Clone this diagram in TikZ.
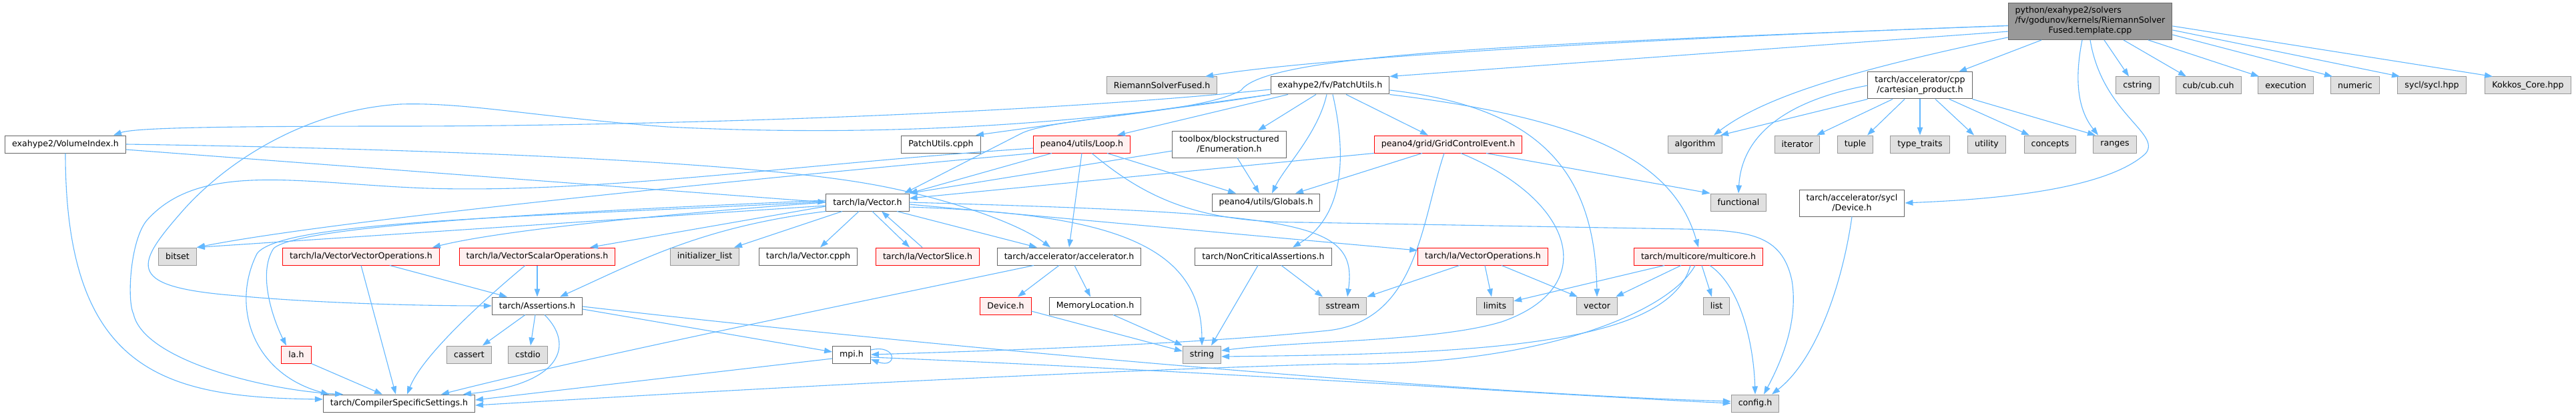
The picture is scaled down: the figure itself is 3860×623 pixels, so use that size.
\documentclass[tikz,border=0pt]{standalone}
\usepackage{fontspec}
\setmainfont{DejaVu Sans}
\usepackage{xcolor}
\usepackage{tikz}
\usetikzlibrary{arrows.meta,positioning}
\definecolor{edgeblue}{HTML}{63B8FF}
\definecolor{boxline}{HTML}{666666}
\definecolor{sysline}{HTML}{999999}
\definecolor{sysfill}{HTML}{E0E0E0}
\definecolor{cutline}{HTML}{FF0000}
\definecolor{cutfill}{HTML}{FFF0F0}
\definecolor{rootfill}{HTML}{999999}
\newcommand\gfont{\fontsize{12.6}{15}\selectfont}
\begin{document}
\begin{tikzpicture}[x=1pt, y=-1pt,
  hdr/.style={draw=boxline, fill=white, line width=1pt, inner xsep=10.5pt, inner ysep=2pt, minimum height=26pt, align=center, font=\gfont},
  sys/.style={hdr, draw=sysline, fill=sysfill},
  trunc/.style={hdr, draw=cutline, fill=cutfill},
  srcfile/.style={hdr, fill=rootfill, minimum height=55pt},
  incl/.style={draw=edgeblue, line width=1.1pt, -{Triangle[length=12pt,width=8.5pt]}}]
\fill[white] (0,0) rectangle (3860,623);
\useasboundingbox (0,0) rectangle (3860,623);
\node[srcfile] (root) at (3132,32) {\begin{tabular}{@{}l@{}}python/exahype2/solvers\\/fv/godunov/kernels/RiemannSolver\\\multicolumn{1}{@{}c@{}}{Fused.template.cpp}\end{tabular}};
\node[sys] (rsf) at (1741,128) {RiemannSolverFused.h};
\node[hdr] (patch) at (1993,128) {exahype2/fv/PatchUtils.h};
\node[hdr, minimum height=40pt] (cart) at (2877,128) {tarch/accelerator/cpp\\/cartesian\_product.h};
\node[sys] (cstring) at (3203,128) {cstring};
\node[sys] (cub) at (3309,128) {cub/cub.cuh};
\node[sys] (exec) at (3425,128) {execution};
\node[sys] (numeric) at (3529,128) {numeric};
\node[sys] (syclhpp) at (3644,128) {sycl/sycl.hpp};
\node[sys] (kokkos) at (3788,128) {Kokkos\_Core.hpp};
\node[hdr] (volidx) at (98,216) {exahype2/VolumeIndex.h};
\node[hdr] (pcpph) at (1410,216) {PatchUtils.cpph};
\node[trunc] (loop) at (1621,216) {peano4/utils/Loop.h};
\node[hdr, minimum height=40pt] (enumer) at (1842,216) {toolbox/blockstructured\\/Enumeration.h};
\node[trunc] (gridev) at (2170,216) {peano4/grid/GridControlEvent.h};
\node[sys] (algo) at (2540,216) {algorithm};
\node[sys] (iter) at (2693,216) {iterator};
\node[sys] (tuple) at (2780,216) {tuple};
\node[sys] (ttraits) at (2877,216) {type\_traits};
\node[sys] (utility) at (2977,216) {utility};
\node[sys] (concepts) at (3072,216) {concepts};
\node[sys] (ranges) at (3169,216) {ranges};
\node[hdr] (vec) at (1300,303) {tarch/la/Vector.h};
\node[hdr] (globals) at (1897,303) {peano4/utils/Globals.h};
\node[sys] (functional) at (2605,303) {functional};
\node[hdr, minimum height=40pt] (sycldev) at (2775,304) {tarch/accelerator/sycl\\/Device.h};
\node[sys] (bitset) at (266,384) {bitset};
\node[trunc] (vvops) at (541,384) {tarch/la/VectorVectorOperations.h};
\node[trunc] (vsops) at (805,384) {tarch/la/VectorScalarOperations.h};
\node[sys] (initl) at (1056,384) {initializer\_list};
\node[hdr] (veccpph) at (1211,384) {tarch/la/Vector.cpph};
\node[trunc] (vslice) at (1390,384) {tarch/la/VectorSlice.h};
\node[hdr] (accel) at (1602,384) {tarch/accelerator/accelerator.h};
\node[hdr] (noncrit) at (1893,384) {tarch/NonCriticalAssertions.h};
\node[trunc] (vops) at (2222,384) {tarch/la/VectorOperations.h};
\node[trunc] (multicore) at (2545,384) {tarch/multicore/multicore.h};
\node[hdr] (assert) at (805,458) {tarch/Assertions.h};
\node[trunc] (device) at (1507,458) {Device.h};
\node[hdr] (memloc) at (1641,458) {MemoryLocation.h};
\node[sys] (sstream) at (2012,458) {sstream};
\node[sys] (limits) at (2240,458) {limits};
\node[sys] (stdvec) at (2393,458) {vector};
\node[sys] (list) at (2572,458) {list};
\node[trunc] (lah) at (444,531) {la.h};
\node[sys] (cassert) at (703,531) {cassert};
\node[sys] (cstdio) at (791,531) {cstdio};
\node[hdr] (mpi) at (1276,531) {mpi.h};
\node[sys] (string) at (1801,531) {string};
\node[hdr] (css) at (598,604) {tarch/CompilerSpecificSettings.h};
\node[sys] (config) at (2630,604) {config.h};
\draw[incl] (root.183) .. controls (2400,60) and (1950,90) .. ([xshift=65pt]rsf.north);
\draw[incl] (root.187) -- (patch.north east);
\draw[incl] (root.183) .. controls (2300,65) and (1900,80) .. (1860,135) .. controls (1800,170) and (1580,175) .. (1530,200) -- ([xshift=55pt]vec.north);
\draw[incl] ([xshift=-73pt]root.south) -- ([xshift=58pt]cart.north);
\draw[incl] (root.191) .. controls (2800,100) and (2650,140) .. ([xshift=28pt]algo.north);
\draw[incl] ([xshift=-12pt]root.south) .. controls (3110,110) and (3110,160) .. ([xshift=-25pt]ranges.north);
\draw[incl] (root.south) .. controls (3150,170) and (3240,200) .. (3215,230) .. controls (3150,290) and (2950,300) .. (sycldev.east);
\draw[incl] ([xshift=21pt]root.south) -- ([xshift=-13pt]cstring.north);
\draw[incl] ([xshift=50pt]root.south) -- ([xshift=-33pt]cub.north);
\draw[incl] ([xshift=87pt]root.south) -- ([xshift=-40pt]exec.north);
\draw[incl] ([yshift=-20pt]root.east) -- ([xshift=-34pt]numeric.north);
\draw[incl] ([yshift=-13pt]root.east) -- ([xshift=-48pt]syclhpp.north);
\draw[incl] ([yshift=-7pt]root.east) -- ([xshift=-53pt]kokkos.north);
\draw[incl] (cart.south west) -- ([xshift=38pt]algo.north);
\draw[incl] (cart.west) .. controls (2680,150) and (2610,200) .. (functional.north);
\draw[incl] ([xshift=-41pt]cart.south) -- ([xshift=29pt]iter.north);
\draw[incl] ([xshift=-23pt]cart.south) -- ([xshift=18pt]tuple.north);
\draw[incl] (cart) -- (ttraits);
\draw[incl] ([xshift=23pt]cart.south) -- ([xshift=-19pt]utility.north);
\draw[incl] ([xshift=44pt]cart.south) -- ([xshift=-31pt]concepts.north);
\draw[incl] (cart.south east) -- ([xshift=-29pt]ranges.north);
\draw[incl] ([yshift=-6pt]patch.west) .. controls (1500,175) and (900,189) .. (600,189) .. controls (300,189) and (200,192) .. ([xshift=72pt]volidx.north);
\draw[incl] (patch.south west) .. controls (1600,190) and (1300,205) .. (1000,190) .. controls (800,175) and (700,153) .. (600,156) .. controls (450,165) and (330,250) .. (270,320) .. controls (200,400) and (190,430) .. (356,443) .. controls (450,452) and (600,458) .. (assert.west);
\draw[incl] (patch.south west) -- ([xshift=52pt]pcpph.north);
\draw[incl] ([xshift=-63pt]patch.south) -- ([xshift=53pt]loop.north);
\draw[incl] ([xshift=-21pt]patch.south) -- ([xshift=43pt]enumer.north);
\draw[incl] ([xshift=-5pt]patch.south) .. controls (1975,200) and (1925,250) .. ([xshift=9pt]globals.north);
\draw[incl] ([xshift=4pt]patch.south) .. controls (2015,220) and (2020,320) .. ([xshift=44pt]noncrit.north);
\draw[incl] ([xshift=24pt]patch.south) -- ([xshift=-30pt]gridev.north);
\draw[incl] ([yshift=-7pt]patch.east) .. controls (2300,160) and (2390,250) .. (stdvec.north);
\draw[incl] (patch.south east) .. controls (2400,180) and (2510,250) .. (multicore.north);
\draw[incl] ([xshift=-45pt]loop.south) -- (vec.north east);
\draw[incl] (loop.south) -- (accel.north);
\draw[incl] ([xshift=15pt]loop.south) .. controls (1720,300) and (1800,333) .. (1950,333) -- (2520,343) .. controls (2620,345) and (2670,350) .. (2685,420) .. controls (2695,480) and (2670,540) .. ([xshift=13pt]config.north);
\draw[incl] ([xshift=38pt]loop.south) -- ([xshift=-45pt]globals.north);
\draw[incl] (loop.south west) .. controls (1100,270) and (500,330) .. (bitset.north east);
\draw[incl] ([yshift=-6pt]loop.west) .. controls (1200,245) and (900,290) .. (640,282) .. controls (450,275) and (300,240) .. (220,330) .. controls (195,360) and (190,450) .. (200,470) .. controls (215,540) and (400,585) .. ([xshift=-84pt]css.north);
\draw[incl] ([yshift=-8pt]volidx.east) -- (vec.west);
\draw[incl] (volidx.east) .. controls (600,222) and (1100,240) .. (1300,275) .. controls (1400,292) and (1520,330) .. ([xshift=-28pt]accel.north);
\draw[incl] (volidx.south) .. controls (98,560) and (250,595) .. ([yshift=6pt]css.west);
\draw[incl] ([xshift=12pt]enumer.south) -- ([xshift=-10pt]globals.north);
\draw[incl] ([yshift=-10pt]enumer.west) -- (vec.north east);
\draw[incl] (gridev.south west) -- ([yshift=6pt]vec.east);
\draw[incl] ([xshift=-39pt]gridev.south) -- ([xshift=44pt]globals.north);
\draw[incl] ([xshift=-6pt]gridev.south) .. controls (2130,330) and (2125,480) .. (1990,495) .. controls (1800,515) and (1500,525) .. (mpi.east);
\draw[incl] ([xshift=19pt]gridev.south) .. controls (2360,300) and (2400,430) .. (2250,482) .. controls (2150,512) and (1950,510) .. ([yshift=6pt]string.east);
\draw[incl] ([xshift=57pt]gridev.south) -- (functional.north west);
\draw[incl] ([yshift=-5pt]vec.west) -- (bitset.north east);
\draw[incl] (vec.west) .. controls (1000,320) and (750,345) .. ([xshift=107pt]vvops.north);
\draw[incl] ([yshift=3pt]vec.west) .. controls (900,315) and (450,335) .. (410,372) .. controls (385,410) and (410,480) .. ([xshift=-15pt]lah.north);
\draw[incl] ([yshift=1pt]vec.west) .. controls (800,325) and (420,330) .. (385,380) .. controls (345,460) and (380,560) .. ([xshift=-105pt]css.north);
\draw[incl] ([yshift=-6pt]vec.west) -- ([xshift=79pt]vsops.north);
\draw[incl] (vec.south west) .. controls (1050,340) and (960,390) .. ([xshift=34pt]assert.north);
\draw[incl] ([xshift=-38pt]vec.south) -- ([xshift=44pt]initl.north);
\draw[incl] ([xshift=-13pt]vec.south) -- ([xshift=18pt]veccpph.north);
\draw[incl] ([xshift=7pt]vec.south) -- ([xshift=-27pt]vslice.north);
\draw[incl] ([xshift=-8pt]vslice.north) -- ([xshift=21pt]vec.south);
\draw[incl] ([xshift=44pt]vec.south) -- ([xshift=-48pt]accel.north);
\draw[incl] ([yshift=-7pt]vec.east) .. controls (1650,320) and (1800,360) .. (string.north);
\draw[incl] ([yshift=-3pt]vec.east) -- ([yshift=9pt]vops.west);
\draw[incl] (vec.east) .. controls (1950,320) and (2035,330) .. ([xshift=7pt]sstream.north);
\draw[incl] (vvops.south) -- ([xshift=-5pt]css.north);
\draw[incl] ([xshift=43pt]vvops.south) -- ([xshift=-45pt]assert.north);
\draw[incl] (vsops) -- (assert);
\draw[incl] ([xshift=-18pt]vsops.south) .. controls (700,470) and (630,540) .. ([xshift=12pt]css.north);
\draw[incl] (lah.south east) -- ([xshift=-25pt]css.north);
\draw[incl] ([xshift=-18pt]assert.south) -- ([xshift=20pt]cassert.north);
\draw[incl] ([xshift=-3pt]assert.south) -- ([xshift=4pt]cstdio.north);
\draw[incl] ([xshift=11pt]assert.south) .. controls (860,515) and (845,575) .. ([xshift=96pt]css.north);
\draw[incl] ([yshift=-5pt]assert.east) -- ([yshift=4pt]mpi.west);
\draw[incl] ([yshift=-1pt]assert.east) .. controls (1400,520) and (2200,590) .. ([yshift=3pt]config.west);
\draw[incl] ([yshift=-6pt]mpi.west) -- ([yshift=5pt]css.east);
\draw[incl] ([yshift=-4pt]mpi.east) .. controls (1800,555) and (2300,590) .. (config.west);
\draw[incl] ([yshift=7pt]mpi.east) .. controls (1345,515) and (1345,553) .. ([yshift=-7pt]mpi.east);
\draw[incl] ([xshift=-15pt]accel.south) -- ([xshift=18pt]device.north);
\draw[incl] ([xshift=8pt]accel.south) -- ([xshift=-7pt]memloc.north);
\draw[incl] ([xshift=-53pt]accel.south) .. controls (1300,450) and (900,530) .. ([xshift=63pt]css.north);
\draw[incl] ([yshift=-8pt]device.east) -- ([yshift=5pt]string.west);
\draw[incl] ([xshift=27pt]memloc.south) -- (string.north west);
\draw[incl] ([xshift=-8pt]noncrit.south) -- ([xshift=14pt]string.north);
\draw[incl] ([xshift=27pt]noncrit.south) -- ([xshift=-30pt]sstream.north);
\draw[incl] ([xshift=-35pt]vops.south) -- (sstream.north east);
\draw[incl] ([xshift=3pt]vops.south) -- ([xshift=-5pt]limits.north);
\draw[incl] ([xshift=28pt]vops.south) -- ([xshift=-29pt]stdvec.north);
\draw[incl] ([xshift=-51pt]multicore.south) -- ([yshift=7pt]limits.east);
\draw[incl] ([xshift=-26pt]multicore.south) -- ([xshift=28pt]stdvec.north);
\draw[incl] ([xshift=5pt]multicore.south) -- ([xshift=-7pt]list.north);
\draw[incl] ([xshift=17pt]multicore.south) .. controls (2610,430) and (2628,520) .. (config.north);
\draw[incl] ([xshift=-12pt]multicore.south) .. controls (2500,520) and (2200,530) .. ([yshift=-3pt]string.east);
\draw[incl] ([xshift=-5pt]multicore.south) .. controls (2500,470) and (2300,550) .. (2000,545) .. controls (1500,560) and (1000,590) .. ([yshift=-3pt]css.east);
\draw[incl] (sycldev.south) .. controls (2760,430) and (2720,540) .. ([xshift=25pt]config.north);
\end{tikzpicture}
\end{document}
